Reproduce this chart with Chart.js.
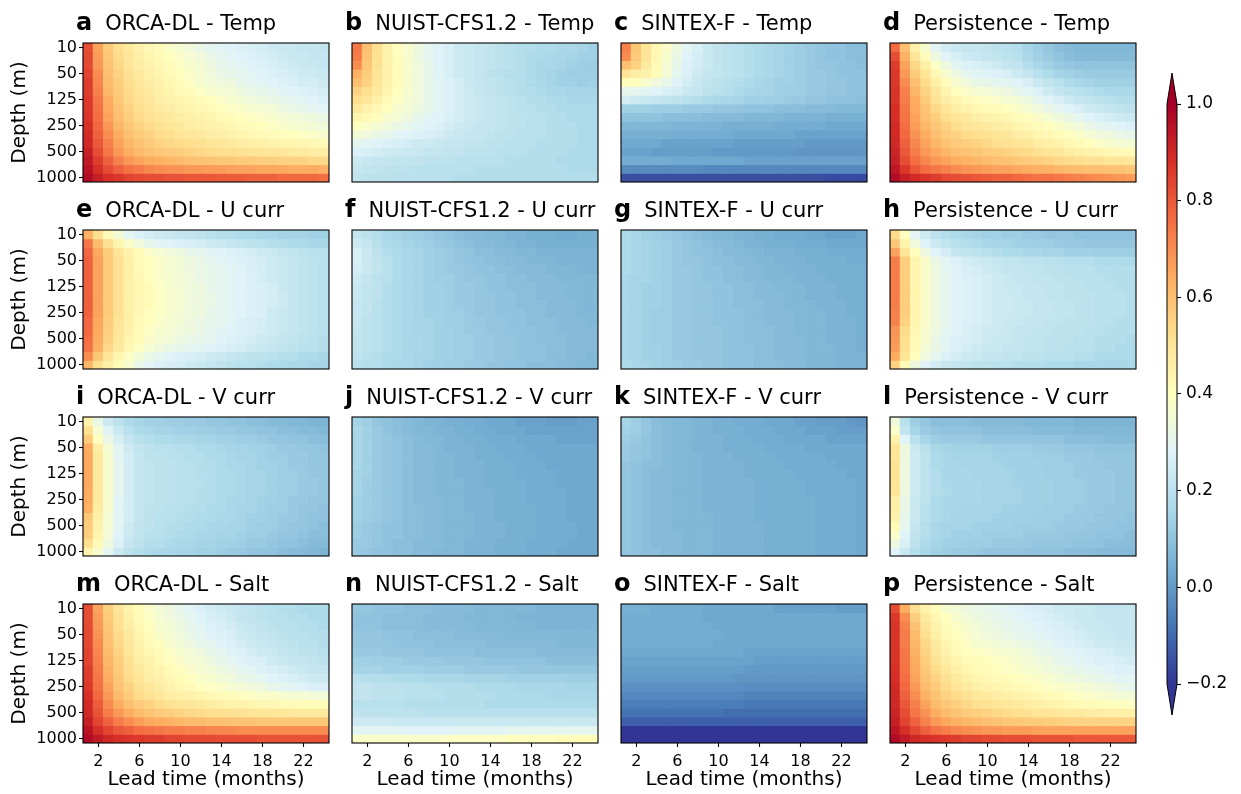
<!DOCTYPE html>
<html>
<head>
<meta charset="utf-8">
<title>Correlation skill by depth and lead time</title>
<script src="https://cdn.jsdelivr.net/npm/chart.js@4.4.1/dist/chart.umd.min.js"></script>
<style>
  html, body { margin: 0; padding: 0; background: #fff; }
  #fig { position: relative; width: 1241px; height: 794px; overflow: hidden; background: #fff; }
  #fig canvas { position: absolute; }
</style>
</head>
<body>
<div id="fig"></div>
<script>
// ---- axis categories and labels ----
const leadMonths = [1,2,3,4,5,6,7,8,9,10,11,12,13,14,15,16,17,18,19,20,21,22,23,24];
const leadTicks = [2,6,10,14,18,22];
const depthLevelCount = 16;
const depthTickRows = [0,3,6,9,12,15];
const depthTickLabels = ['10','50','125','250','500','1000'];
const models = ['ORCA-DL','NUIST-CFS1.2','SINTEX-F','Persistence'];
const variables = ['Temp','U curr','V curr','Salt'];
const panelLetters = ['a','b','c','d','e','f','g','h','i','j','k','l','m','n','o','p'];

// ---- colour scale ----
const colorMin = -0.2;
const colorMax = 1.0;
const colorbarTicks = [-0.2, 0, 0.2, 0.4, 0.6, 0.8, 1.0];
const rdylbuReversed = ['#313695','#4575b4','#74add1','#abd9e9','#e0f3f8','#ffffbf','#fee090','#fdae61','#f46d43','#d73027','#a50026'];

// ---- correlation skill x 100; rows = depth levels (top to bottom), columns = lead month 1..24 ----
const orcaTemp = [
 [82,66,57,52,48,45,43,41,38,36,34,32,30,29,28,27,26,25,24,23,23,22,22,21],
 [83,67,58,53,49,46,44,42,40,38,36,34,32,30,29,28,27,26,25,24,23,23,22,22],
 [83,68,59,54,50,47,45,43,41,39,37,35,33,31,30,29,28,27,26,25,24,23,23,22],
 [84,70,60,55,51,48,46,44,42,40,38,36,34,32,31,30,29,28,27,26,25,24,24,23],
 [85,71,61,56,52,49,47,45,43,41,39,37,35,34,33,31,30,29,28,27,26,25,25,24],
 [85,72,62,57,53,50,48,46,44,42,41,39,37,36,35,33,32,31,30,29,28,27,26,25],
 [86,74,64,58,54,51,49,47,45,44,43,41,40,38,37,35,34,33,32,31,30,29,28,27],
 [86,75,65,59,55,52,50,48,47,45,44,43,42,40,39,38,37,36,35,33,32,31,30,29],
 [87,76,66,60,56,53,51,50,48,47,46,45,44,42,41,40,39,38,37,36,35,34,33,32],
 [88,77,68,62,58,55,53,51,50,48,47,46,45,44,43,42,41,40,39,38,37,36,35,34],
 [89,78,70,64,60,57,55,53,52,50,49,48,47,46,45,44,43,42,41,40,40,39,38,37],
 [90,80,72,66,62,59,57,55,54,53,52,51,50,49,48,47,46,46,45,44,44,43,43,42],
 [92,82,74,68,64,61,59,58,57,56,55,54,53,52,52,51,50,50,49,49,48,48,47,47],
 [93,85,78,72,68,66,64,63,62,61,60,59,59,58,58,57,57,56,56,55,55,55,54,54],
 [95,88,82,78,75,73,71,70,69,69,68,68,67,67,66,66,66,65,65,65,64,64,64,63],
 [97,92,88,86,84,83,82,82,81,81,80,80,80,79,79,79,78,78,78,77,77,77,77,76]
];
const nuistTemp = [
 [74,60,52,45,40,37,33,30,28,26,24,23,22,21,20,19,18,18,17,17,16,16,15,14],
 [73,59,51,45,40,37,33,30,28,26,24,23,22,21,20,19,18,17,17,16,16,15,14,14],
 [70,58,51,45,41,37,34,31,28,26,24,23,22,21,20,19,18,17,16,16,15,14,13,13],
 [63,56,50,45,41,37,34,31,28,26,24,23,22,20,19,18,18,17,16,15,14,13,13,13],
 [60,55,50,45,41,37,34,31,29,27,25,23,22,21,20,19,18,17,16,15,14,14,13,14],
 [55,52,48,44,40,37,34,31,29,27,25,24,22,21,20,19,18,18,17,16,16,15,15,15],
 [52,49,46,42,39,36,34,31,29,27,25,24,23,22,21,20,19,18,18,17,17,16,16,16],
 [48,45,43,40,37,35,33,31,29,27,25,24,23,22,21,20,19,19,18,18,17,17,17,17],
 [44,42,40,37,35,33,31,29,28,26,25,24,23,22,21,20,20,19,19,18,18,17,17,17],
 [40,38,36,34,32,31,29,28,27,25,24,23,22,22,21,20,20,19,19,18,18,18,17,17],
 [35,34,32,31,29,28,27,26,25,24,23,22,22,21,20,20,19,19,19,18,18,18,17,17],
 [30,29,28,27,26,25,24,24,23,22,22,21,21,20,20,19,19,19,18,18,18,18,17,17],
 [27,26,25,24,24,23,23,22,22,21,21,20,20,20,19,19,19,18,18,18,18,17,17,17],
 [24,23,22,22,21,21,21,20,20,20,19,19,19,19,19,18,18,18,18,18,17,17,17,17],
 [22,21,21,20,20,20,19,19,19,19,19,19,18,18,18,18,18,18,18,18,18,17,17,17],
 [21,20,20,20,19,19,19,19,19,19,18,18,18,18,18,18,18,18,18,18,18,18,18,18]
];
const sintexTemp = [
 [72,58,50,43,38,33,29,26,23,21,20,19,18,17,16,15,14,13,12,11,10,10,9,9],
 [70,57,50,43,37,32,28,25,23,21,20,19,18,17,16,15,14,13,12,11,10,10,9,9],
 [60,55,48,42,36,31,27,25,23,21,20,19,18,17,16,15,14,13,12,11,11,10,10,9],
 [50,47,45,41,35,30,27,24,22,21,20,19,18,17,16,15,14,13,12,12,11,10,10,10],
 [40,40,37,34,31,28,25,23,21,20,19,18,17,16,15,14,14,13,12,12,11,11,10,10],
 [31,30,29,28,26,25,23,22,20,19,18,17,16,15,15,14,13,13,12,12,11,11,10,10],
 [25,24,23,22,21,20,19,18,17,16,16,15,14,14,13,13,12,12,11,11,10,10,10,9],
 [14,14,14,13,13,13,12,12,12,11,11,11,10,10,10,9,9,9,8,8,8,7,7,7],
 [10,10,10,10,9,9,9,9,8,8,8,8,7,7,7,7,6,6,6,6,5,5,5,5],
 [7,7,7,7,7,6,6,6,6,6,5,5,5,5,5,4,4,4,4,4,3,3,3,3],
 [5,5,5,5,5,4,4,4,4,4,4,3,3,3,3,3,3,2,2,2,2,2,2,2],
 [3,3,3,3,2,2,2,2,2,2,2,1,1,1,1,1,1,1,0,0,0,0,0,0],
 [2,2,2,1,1,1,1,1,1,0,0,0,0,0,0,0,0,-1,-1,-1,-1,-1,-1,-1],
 [4,4,4,4,4,3,3,3,3,3,3,3,2,2,2,2,2,2,2,2,2,2,2,2],
 [-3,-3,-3,-3,-3,-3,-3,-3,-4,-4,-4,-4,-4,-4,-4,-4,-4,-4,-4,-4,-4,-4,-4,-4],
 [-15,-15,-15,-15,-15,-15,-15,-15,-15,-15,-15,-15,-15,-15,-15,-15,-15,-15,-15,-15,-16,-16,-16,-16]
];
const persTemp = [
 [77,60,46,37,29,25,23,22,22,21,20,19,18,15,13,11,9,8,7,7,7,7,7,7],
 [82,63,50,41,33,28,26,24,23,22,21,20,19,16,14,12,10,9,8,8,8,8,8,8],
 [85,66,54,46,39,33,29,27,26,25,24,22,21,18,16,14,12,11,10,10,10,10,10,10],
 [86,68,57,50,43,37,33,30,29,28,27,26,24,22,19,17,15,14,13,12,12,12,12,12],
 [86,70,60,53,46,41,37,34,32,31,30,29,28,26,23,21,19,17,16,15,14,14,14,14],
 [87,72,62,55,49,44,40,38,36,35,34,33,31,29,27,24,22,20,19,18,17,16,16,16],
 [87,73,64,57,51,47,44,42,40,39,38,36,35,33,30,28,26,24,22,21,20,19,18,18],
 [88,74,65,59,54,50,47,45,43,42,41,40,38,36,34,32,30,28,26,24,23,22,21,20],
 [88,75,66,60,56,52,50,48,46,45,44,43,41,40,38,36,34,32,30,28,26,25,24,23],
 [89,76,67,62,58,55,52,50,49,48,47,46,44,43,41,40,38,36,34,32,30,29,28,27],
 [89,77,69,64,60,57,55,53,52,51,50,49,47,46,44,43,41,40,38,36,34,33,32,31],
 [90,78,71,66,62,59,57,56,55,54,52,51,50,49,47,46,45,43,42,40,38,37,36,35],
 [91,80,73,68,65,62,60,59,58,57,56,55,54,53,51,50,49,47,46,45,44,43,42,42],
 [92,82,76,71,68,66,64,63,62,61,60,59,58,57,56,55,54,53,52,51,51,50,50,49],
 [94,86,80,76,74,72,70,69,68,67,66,66,65,64,63,63,62,61,61,60,60,59,59,58],
 [97,92,89,87,85,83,82,81,80,79,78,78,77,76,75,75,74,73,72,71,70,69,68,67]
];
const orcaU = [
 [63,52,42,35,30,27,25,24,23,22,21,20,19,18,18,17,17,16,16,15,15,15,14,14],
 [74,61,51,44,38,34,31,29,28,27,26,25,24,23,22,21,20,19,18,18,17,17,16,16],
 [77,65,56,50,45,41,38,36,34,33,31,30,29,28,27,26,25,24,23,22,21,20,19,19],
 [78,66,57,51,46,42,40,38,36,35,33,32,30,29,28,27,26,25,24,23,22,21,20,19],
 [78,66,57,51,46,42,40,38,36,35,33,32,31,30,29,28,26,25,24,23,22,21,20,19],
 [78,66,57,51,46,43,40,38,37,35,34,32,31,30,29,28,27,25,24,23,22,21,20,19],
 [78,66,57,51,46,43,41,39,37,35,34,33,31,30,29,28,27,26,25,23,22,21,20,19],
 [78,66,57,51,46,43,41,39,37,36,34,33,32,30,29,28,27,26,25,24,22,21,20,19],
 [78,66,57,51,46,43,41,39,37,36,34,33,32,30,29,28,27,26,25,24,22,21,20,19],
 [78,66,57,51,46,43,40,39,37,35,34,33,31,30,29,28,27,26,24,23,22,21,20,19],
 [77,65,56,50,46,42,40,38,36,35,33,32,31,30,29,27,26,25,24,23,22,21,20,19],
 [77,65,56,50,45,42,39,37,36,34,33,32,30,29,28,27,26,25,24,23,22,21,20,19],
 [76,64,55,49,44,41,38,36,35,33,32,31,30,28,27,26,25,24,23,22,21,20,19,18],
 [75,63,54,48,43,39,36,34,32,31,30,29,28,27,26,25,24,23,22,21,20,19,19,18],
 [70,58,50,44,39,35,32,30,28,27,26,25,24,23,22,21,20,20,19,18,18,17,17,16],
 [62,52,46,41,37,32,29,27,26,25,24,23,22,21,20,19,19,18,17,17,16,16,15,15]
];
const nuistU = [
 [22,20,18,16,15,14,13,12,11,10,9,8,8,7,7,6,6,5,5,5,4,4,5,5],
 [24,22,19,17,16,15,14,13,12,11,10,9,8,8,7,7,6,6,5,5,5,5,5,5],
 [26,23,20,18,17,16,15,14,13,12,11,10,9,9,8,8,7,7,6,6,6,6,6,6],
 [26,23,21,19,17,16,15,14,13,12,11,10,10,9,9,8,8,7,7,7,6,6,6,6],
 [25,23,21,19,17,16,15,14,13,12,12,11,10,10,9,9,8,8,8,7,7,7,6,6],
 [24,22,20,19,17,16,15,14,13,13,12,11,11,10,10,9,9,8,8,8,7,7,7,7],
 [23,21,20,18,17,16,15,14,14,13,12,12,11,10,10,9,9,9,8,8,8,7,7,7],
 [23,21,20,18,17,16,15,14,14,13,12,12,11,11,10,10,9,9,8,8,8,7,7,7],
 [22,21,19,18,17,16,15,14,14,13,12,12,11,11,10,10,9,9,9,8,8,8,7,7],
 [22,21,19,18,17,16,15,14,14,13,13,12,11,11,10,10,10,9,9,8,8,8,7,7],
 [22,20,19,18,17,16,15,15,14,13,13,12,12,11,11,10,10,9,9,9,8,8,8,7],
 [22,20,19,18,17,16,15,15,14,14,13,12,12,11,11,10,10,10,9,9,8,8,8,8],
 [21,20,19,18,17,16,16,15,14,14,13,13,12,12,11,11,10,10,9,9,9,8,8,8],
 [21,20,19,18,17,16,16,15,14,14,13,13,12,12,11,11,10,10,10,9,9,8,8,8],
 [20,19,18,17,17,16,15,15,14,14,13,13,12,12,11,11,10,10,10,9,9,8,8,7],
 [19,18,18,17,16,16,15,14,14,13,13,12,12,11,11,10,10,9,9,9,8,8,7,7]
];
const sintexU = [
 [17,16,14,13,12,11,10,9,8,7,7,6,6,5,5,4,4,4,3,3,2,2,2,3],
 [17,16,15,14,13,12,11,10,9,8,8,7,6,6,5,5,5,4,4,4,3,3,3,3],
 [17,16,15,14,13,12,11,10,10,9,8,8,7,7,6,6,6,5,5,5,4,4,4,4],
 [17,16,15,14,13,12,11,11,10,9,9,8,8,7,7,6,6,6,5,5,5,5,4,4],
 [17,16,15,14,13,12,12,11,10,10,9,9,8,8,7,7,6,6,6,5,5,5,5,5],
 [16,15,15,14,13,12,12,11,10,10,9,9,8,8,7,7,7,6,6,6,5,5,5,5],
 [16,15,14,14,13,12,12,11,11,10,10,9,9,8,8,7,7,7,6,6,6,5,5,5],
 [16,15,14,14,13,12,12,11,11,10,10,9,9,8,8,8,7,7,6,6,6,5,5,5],
 [16,15,14,14,13,12,12,11,11,10,10,9,9,9,8,8,7,7,7,6,6,6,5,5],
 [16,15,14,13,13,12,12,11,11,10,10,10,9,9,8,8,8,7,7,7,6,6,5,5],
 [16,15,14,13,13,12,12,11,11,10,10,10,9,9,8,8,8,7,7,7,6,6,6,5],
 [16,15,14,13,13,12,12,11,11,11,10,10,9,9,9,8,8,7,7,7,6,6,6,5],
 [16,15,14,13,13,12,12,11,11,11,10,10,9,9,9,8,8,8,7,7,6,6,6,5],
 [16,15,14,14,13,12,12,11,11,11,10,10,10,9,9,8,8,8,7,7,7,6,6,5],
 [16,15,14,14,13,12,12,11,11,11,10,10,10,9,9,8,8,8,7,7,7,6,6,6],
 [17,16,15,14,13,13,12,12,11,11,10,10,10,9,9,9,8,8,7,7,7,6,6,6]
];
const persU = [
 [53,40,29,24,20,18,17,16,15,14,14,13,13,12,12,11,11,11,10,10,10,10,10,10],
 [58,44,34,28,24,21,19,18,17,16,15,15,14,14,13,13,12,12,12,11,11,11,11,11],
 [66,50,40,33,28,25,22,21,20,19,18,17,17,16,16,15,15,14,14,14,13,13,13,13],
 [73,56,44,38,32,29,27,25,24,23,22,21,21,20,20,19,19,18,18,18,17,17,17,17],
 [73,56,44,38,33,30,28,26,25,24,23,22,22,21,21,20,20,19,19,19,18,18,18,18],
 [73,56,44,38,33,30,28,27,26,25,24,23,22,22,21,21,20,20,19,19,19,18,18,18],
 [73,56,44,38,33,30,28,27,26,25,24,23,23,22,22,21,21,20,20,19,19,19,18,18],
 [73,56,44,38,33,30,28,27,26,25,24,24,23,22,22,21,21,20,20,20,19,19,19,18],
 [73,56,44,38,33,30,28,27,26,25,24,24,23,23,22,22,21,21,20,20,19,19,19,18],
 [72,56,44,38,33,30,28,27,26,25,24,24,23,23,22,22,21,21,20,20,19,19,19,18],
 [72,55,44,38,33,30,28,27,26,25,24,23,23,22,22,21,21,20,20,20,19,19,18,18],
 [69,53,43,37,33,30,28,26,25,24,24,23,22,22,21,21,20,20,20,19,19,18,18,18],
 [68,52,42,37,32,29,27,26,25,24,23,23,22,21,21,20,20,20,19,19,18,18,18,17],
 [67,52,42,36,32,29,27,25,24,23,23,22,22,21,21,20,20,19,19,19,18,18,17,17],
 [64,50,40,34,30,27,25,24,23,22,22,21,21,20,20,19,19,19,18,18,17,17,17,17],
 [55,42,33,28,25,23,22,21,20,20,19,19,18,18,18,17,17,17,16,16,16,16,16,16]
];
const orcaV = [
 [45,32,24,20,17,15,14,14,13,13,12,12,11,11,10,10,9,9,8,8,7,7,6,6],
 [52,36,28,23,19,17,16,15,15,14,14,13,13,12,12,11,11,10,10,9,9,8,8,7],
 [57,40,32,26,22,19,18,17,17,16,16,15,15,14,14,13,13,12,11,11,10,10,9,9],
 [64,47,36,29,24,21,20,19,19,18,18,17,17,16,15,15,14,14,13,12,12,11,11,10],
 [65,48,37,29,25,22,20,20,19,19,18,18,17,17,16,15,15,14,13,13,12,12,11,11],
 [65,48,37,30,25,22,21,20,20,19,19,18,18,17,16,16,15,14,14,13,12,12,11,11],
 [65,48,37,30,25,22,21,20,20,19,19,18,18,17,17,16,15,15,14,13,13,12,11,11],
 [65,48,37,30,25,22,21,20,20,19,19,19,18,17,17,16,15,15,14,13,13,12,12,11],
 [64,48,37,30,25,22,21,20,20,19,19,18,18,17,17,16,15,15,14,13,13,12,12,11],
 [64,48,37,29,25,22,21,20,20,19,19,18,18,17,16,16,15,14,14,13,12,12,11,11],
 [63,47,37,29,25,22,20,20,19,19,18,18,17,17,16,15,15,14,13,13,12,11,11,10],
 [58,46,36,29,25,22,20,19,19,18,18,17,17,16,16,15,14,14,13,12,12,11,10,10],
 [57,45,36,29,24,21,20,19,18,18,17,17,16,16,15,15,14,13,13,12,11,11,10,9],
 [56,44,35,28,24,21,19,19,18,17,17,16,16,15,15,14,13,13,12,11,11,10,9,9],
 [52,42,33,27,22,20,18,18,17,16,16,15,15,14,14,13,12,12,11,10,10,9,8,8],
 [45,37,30,24,20,18,17,16,16,15,15,14,14,13,12,12,11,10,10,9,8,8,7,6]
];
const nuistV = [
 [15,13,11,10,9,8,7,6,6,5,5,4,4,3,3,3,2,2,2,1,1,1,2,2],
 [16,14,12,10,9,8,7,7,6,6,5,5,4,4,3,3,3,2,2,2,2,2,2,2],
 [16,14,12,11,10,9,8,7,7,6,6,5,5,4,4,4,3,3,3,3,2,2,2,2],
 [16,14,12,11,10,9,8,8,7,6,6,6,5,5,4,4,4,3,3,3,3,3,3,3],
 [16,14,12,11,10,9,8,8,7,7,6,6,5,5,5,4,4,4,3,3,3,3,3,3],
 [16,14,12,11,10,9,8,8,7,7,6,6,6,5,5,5,4,4,4,3,3,3,3,3],
 [15,14,12,11,10,9,8,8,7,7,6,6,6,5,5,5,4,4,4,4,3,3,3,3],
 [15,13,12,11,10,9,8,8,7,7,7,6,6,5,5,5,5,4,4,4,3,3,3,3],
 [15,13,12,11,10,9,8,8,7,7,7,6,6,6,5,5,5,4,4,4,4,3,3,3],
 [14,13,12,11,10,9,8,8,8,7,7,6,6,6,5,5,5,4,4,4,4,3,3,3],
 [14,13,12,11,10,9,9,8,8,7,7,6,6,6,5,5,5,5,4,4,4,3,3,3],
 [14,13,12,11,10,9,9,8,8,7,7,7,6,6,5,5,5,5,4,4,4,3,3,3],
 [13,12,11,10,10,9,9,8,8,7,7,7,6,6,6,5,5,5,4,4,4,4,3,3],
 [13,12,11,10,10,9,9,8,8,7,7,7,6,6,6,5,5,5,4,4,4,4,3,3],
 [12,12,11,10,9,9,8,8,8,7,7,6,6,6,5,5,5,4,4,4,4,3,3,3],
 [12,11,10,10,9,9,8,8,7,7,7,6,6,6,5,5,5,4,4,4,3,3,3,3]
];
const sintexV = [
 [15,13,11,9,8,7,7,6,6,5,5,4,4,4,3,3,3,2,2,1,1,1,0,-1],
 [14,13,11,9,8,7,7,6,6,5,5,5,4,4,4,3,3,3,2,2,2,1,1,1],
 [13,12,10,9,8,7,7,6,6,6,5,5,5,4,4,4,3,3,3,3,2,2,2,2],
 [12,11,10,9,8,7,7,6,6,6,5,5,5,5,4,4,4,4,3,3,3,3,3,3],
 [12,11,10,9,8,7,7,7,6,6,6,5,5,5,5,4,4,4,4,4,3,3,3,3],
 [11,10,9,9,8,7,7,7,6,6,6,6,5,5,5,5,4,4,4,4,4,3,3,3],
 [11,10,9,8,8,7,7,7,6,6,6,6,5,5,5,5,5,4,4,4,4,4,3,3],
 [11,10,9,8,8,7,7,7,6,6,6,6,6,5,5,5,5,5,4,4,4,4,4,3],
 [11,10,9,8,8,7,7,7,6,6,6,6,6,5,5,5,5,5,4,4,4,4,4,3],
 [11,10,9,8,8,7,7,7,6,6,6,6,6,5,5,5,5,5,5,4,4,4,4,3],
 [11,10,9,8,8,7,7,7,6,6,6,6,6,5,5,5,5,5,5,4,4,4,4,3],
 [11,10,9,8,8,7,7,7,7,6,6,6,6,5,5,5,5,5,5,4,4,4,4,3],
 [11,10,9,8,8,7,7,7,7,6,6,6,6,6,5,5,5,5,5,4,4,4,4,3],
 [11,10,9,8,8,8,7,7,7,6,6,6,6,6,5,5,5,5,5,4,4,4,4,3],
 [11,10,9,8,8,8,7,7,7,6,6,6,6,6,5,5,5,5,5,4,4,4,4,3],
 [11,10,9,9,8,8,7,7,7,6,6,6,6,6,5,5,5,5,5,4,4,4,4,3]
];
const persV = [
 [34,19,13,11,9,9,9,9,8,8,8,8,8,7,7,7,7,7,6,6,6,6,6,6],
 [38,21,15,12,11,10,10,10,10,9,9,9,9,9,8,8,8,8,7,7,7,7,7,7],
 [45,28,19,15,13,12,12,12,12,11,11,11,11,11,10,10,10,9,9,9,9,8,8,8],
 [50,33,23,19,16,15,14,14,14,14,13,13,13,13,12,12,12,11,11,11,10,10,10,10],
 [50,33,24,20,17,16,15,15,15,15,14,14,14,14,13,13,13,12,12,12,11,11,11,11],
 [51,33,24,20,17,16,16,15,15,15,15,14,14,14,14,13,13,13,12,12,12,11,11,11],
 [51,33,24,20,18,16,16,16,15,15,15,15,14,14,14,13,13,13,12,12,12,12,11,11],
 [50,33,24,20,18,16,16,16,16,15,15,15,14,14,14,14,13,13,13,12,12,12,11,11],
 [50,33,24,20,18,17,16,16,16,15,15,15,15,14,14,14,13,13,13,12,12,12,11,11],
 [46,32,23,20,17,16,16,16,16,15,15,15,15,14,14,14,13,13,13,12,12,12,11,11],
 [46,32,23,19,17,16,16,15,15,15,15,14,14,14,14,13,13,13,12,12,12,11,11,11],
 [45,31,23,19,17,16,15,15,15,15,14,14,14,14,13,13,13,12,12,12,11,11,11,10],
 [42,30,22,18,16,15,15,15,14,14,14,14,13,13,13,13,12,12,12,11,11,11,10,10],
 [38,28,21,18,16,15,14,14,14,13,13,13,13,12,12,12,12,11,11,11,10,10,10,9],
 [33,26,20,17,15,14,14,13,13,13,12,12,12,12,11,11,11,11,10,10,10,9,9,9],
 [28,23,18,16,14,13,12,12,12,11,11,11,11,10,10,10,10,9,9,9,8,8,8,8]
];
const orcaSalt = [
 [82,66,56,50,45,41,38,35,33,31,29,27,25,24,23,22,21,20,19,18,18,17,17,17],
 [82,67,57,51,46,42,39,36,34,32,30,28,26,25,24,22,21,20,19,19,18,18,17,17],
 [83,68,58,52,47,43,40,37,35,33,31,29,27,26,25,23,22,21,20,19,19,18,18,17],
 [83,69,59,53,48,44,41,38,36,34,32,30,28,27,26,24,23,22,21,20,19,19,18,18],
 [83,70,60,54,49,45,42,40,37,35,33,31,30,28,27,25,24,23,22,21,20,19,19,18],
 [84,71,61,55,50,46,43,41,39,37,35,33,31,30,28,27,25,24,23,22,21,20,20,19],
 [84,72,62,56,51,47,45,42,40,38,36,35,33,31,30,28,27,26,24,23,22,22,21,20],
 [85,73,63,57,52,48,46,44,42,40,38,36,35,33,32,30,29,27,26,25,24,23,22,22],
 [85,74,64,58,53,50,47,45,43,41,40,38,37,35,34,32,31,30,28,27,26,25,24,24],
 [86,75,66,59,55,51,49,47,45,43,42,40,39,38,36,35,34,33,31,30,29,28,27,27],
 [88,77,68,61,57,53,51,49,47,46,45,44,43,42,41,40,39,38,38,37,36,36,35,35],
 [89,79,70,64,60,57,55,53,51,50,49,48,47,46,45,45,44,43,43,42,42,41,41,41],
 [90,81,73,68,64,61,59,57,56,55,54,53,52,52,51,51,50,50,49,49,48,48,48,48],
 [92,84,78,73,70,67,65,64,63,62,61,61,60,60,59,59,59,58,58,58,58,58,58,58],
 [95,88,84,80,78,76,75,74,73,73,72,72,71,71,71,70,70,70,70,70,70,70,70,70],
 [97,93,90,88,87,86,85,85,84,84,83,83,83,82,82,82,82,81,81,81,81,81,81,81]
];
const nuistSalt = [
 [11,11,10,10,10,9,9,9,8,8,8,8,7,7,7,7,7,7,6,6,6,6,6,6],
 [10,10,10,9,9,9,9,8,8,8,8,7,7,7,7,7,6,6,6,6,6,6,6,6],
 [10,10,10,9,9,9,9,8,8,8,8,8,7,7,7,7,7,7,6,6,6,6,6,6],
 [11,11,11,10,10,10,9,9,9,9,8,8,8,8,8,7,7,7,7,7,7,7,7,7],
 [11,11,11,11,10,10,10,10,9,9,9,9,9,8,8,8,8,8,8,8,7,7,7,7],
 [12,12,12,11,11,11,11,10,10,10,10,10,9,9,9,9,9,9,8,8,8,8,8,8],
 [14,14,13,13,13,12,12,12,12,11,11,11,11,10,10,10,10,10,10,9,9,9,9,9],
 [15,15,15,14,14,14,14,13,13,13,13,12,12,12,12,12,11,11,11,11,11,11,11,11],
 [19,18,18,18,17,17,17,16,16,16,16,15,15,15,15,14,14,14,14,14,14,13,13,13],
 [21,21,20,20,20,19,19,19,18,18,18,18,17,17,17,17,16,16,16,16,16,15,15,15],
 [21,21,20,20,20,19,19,19,19,18,18,18,18,18,17,17,17,17,17,16,16,16,16,16],
 [19,19,19,19,19,18,18,18,18,18,18,18,18,17,17,17,17,17,17,17,17,17,17,17],
 [21,20,20,20,20,20,20,19,19,19,19,19,19,19,19,19,19,19,19,19,19,19,19,19],
 [24,24,24,24,23,23,23,23,23,23,23,23,23,23,23,23,23,23,23,23,23,23,23,23],
 [29,29,29,29,29,28,28,28,28,28,29,29,29,29,29,30,30,30,30,30,30,30,30,30],
 [38,38,38,38,38,38,38,38,38,39,39,39,39,39,39,40,40,40,40,40,41,41,41,41]
];
const sintexSalt = [
 [5,5,5,4,4,4,4,4,3,3,3,3,3,3,3,2,2,2,2,2,2,1,1,1],
 [4,4,4,4,4,4,4,4,3,3,3,3,3,3,3,3,3,3,3,3,3,3,3,3],
 [4,4,4,4,4,4,4,4,4,3,3,3,3,3,3,3,3,3,3,3,3,3,3,3],
 [4,4,4,4,4,4,4,4,4,4,3,3,3,3,3,3,3,3,3,3,3,3,3,3],
 [4,4,4,4,4,4,4,4,4,3,3,3,3,3,3,3,3,3,3,3,3,3,3,3],
 [3,3,3,3,3,3,3,3,3,3,3,3,2,2,2,2,2,2,2,2,2,2,2,2],
 [2,2,2,2,2,2,2,2,2,2,2,2,2,1,1,1,1,1,1,1,1,1,1,1],
 [1,1,1,1,1,1,1,1,1,1,1,1,0,0,0,0,0,0,0,0,0,0,0,0],
 [0,0,0,0,0,0,0,0,0,0,0,-1,-1,-1,-1,-1,-1,-1,-1,-1,-1,-1,-1,-1],
 [-2,-2,-2,-2,-2,-2,-2,-2,-2,-2,-2,-2,-3,-3,-3,-3,-3,-3,-3,-3,-3,-3,-3,-3],
 [-4,-4,-4,-4,-4,-4,-4,-4,-4,-4,-4,-4,-5,-5,-5,-5,-5,-5,-5,-5,-5,-5,-5,-5],
 [-6,-6,-6,-6,-6,-6,-6,-6,-6,-6,-6,-6,-7,-7,-7,-7,-7,-7,-7,-7,-7,-7,-7,-7],
 [-8,-8,-8,-8,-8,-8,-8,-8,-8,-8,-9,-9,-9,-9,-9,-9,-9,-9,-9,-9,-9,-9,-9,-9],
 [-12,-12,-12,-12,-12,-12,-12,-12,-12,-12,-12,-12,-12,-12,-12,-12,-12,-12,-12,-12,-12,-12,-12,-12],
 [-20,-20,-20,-20,-20,-20,-20,-20,-20,-20,-20,-20,-20,-20,-20,-20,-20,-20,-20,-20,-20,-20,-20,-20],
 [-21,-21,-21,-21,-21,-21,-21,-21,-21,-21,-21,-21,-21,-21,-21,-21,-21,-21,-21,-21,-21,-21,-21,-21]
];
const persSalt = [
 [82,64,52,45,41,37,35,33,32,31,30,29,28,27,26,25,24,24,23,23,22,22,22,22],
 [86,70,56,48,43,40,37,35,33,32,31,30,29,28,27,26,25,24,23,23,22,22,22,22],
 [87,72,59,50,45,41,39,37,35,33,32,31,30,29,28,27,26,25,24,23,23,22,22,22],
 [87,73,61,52,46,42,40,38,36,34,33,32,31,30,29,28,27,26,25,24,23,23,22,22],
 [87,73,62,54,48,44,41,39,37,36,35,34,33,32,31,30,28,27,26,25,24,24,23,23],
 [87,74,63,55,49,45,42,40,39,38,37,36,35,34,32,31,30,29,28,27,26,25,24,24],
 [87,74,64,56,51,47,44,42,41,40,39,38,37,35,34,33,31,30,29,28,27,27,26,25],
 [88,75,65,58,53,49,46,44,42,41,40,39,38,37,36,34,33,32,31,30,29,28,27,27],
 [88,76,66,59,55,51,48,46,44,43,42,41,40,39,38,37,35,34,33,32,31,30,29,29],
 [89,77,68,61,57,53,50,48,46,45,44,43,42,41,40,39,38,37,36,35,34,33,32,31],
 [90,78,70,63,59,55,53,51,49,48,47,46,45,44,43,42,41,40,39,38,37,36,35,35],
 [90,80,72,66,61,58,56,54,52,51,50,49,48,47,46,45,44,43,42,42,41,40,40,39],
 [91,82,74,69,64,61,59,57,56,55,54,53,52,51,50,50,49,48,48,47,47,46,46,46],
 [92,84,78,72,68,65,63,62,61,60,59,58,58,57,57,56,56,55,55,55,55,55,55,55],
 [94,88,83,78,75,73,71,70,69,68,68,67,67,67,66,66,66,66,66,66,66,66,66,66],
 [97,93,90,88,87,86,85,84,84,83,83,82,82,82,81,81,81,81,80,80,80,80,80,80]
];

// panels[row][column]: variables down, models across
const panels = [
  [orcaTemp, nuistTemp, sintexTemp, persTemp],
  [orcaU, nuistU, sintexU, persU],
  [orcaV, nuistV, sintexV, persV],
  [orcaSalt, nuistSalt, sintexSalt, persSalt]
];

// ---- page geometry ----
const FONT = "'DejaVu Sans', 'Liberation Sans', sans-serif";
const figHeight = 794;
const panelLeft = [83, 352, 621, 890];
const panelTop = [43, 230, 417, 604];
const panelWidth = 246;
const panelHeight = 139;

Chart.defaults.font.family = FONT;
Chart.defaults.color = '#000';

function hexToRgb(h) {
  return [parseInt(h.slice(1, 3), 16), parseInt(h.slice(3, 5), 16), parseInt(h.slice(5, 7), 16)];
}
const stopRgb = rdylbuReversed.map(hexToRgb);

// value -> colour, 256-level lookup, clamped at both ends (extended colour bar)
function colorFor(v) {
  let t = (v - colorMin) / (colorMax - colorMin);
  t = Math.max(0, Math.min(1, t));
  t = Math.min(255, Math.floor(t * 256)) / 255;
  const x = t * (stopRgb.length - 1);
  const i = Math.min(stopRgb.length - 2, Math.floor(x));
  const f = x - i;
  const a = stopRgb[i], b = stopRgb[i + 1];
  const c = a.map((ch, k) => Math.round(ch + (b[k] - ch) * f));
  return `rgb(${c[0]},${c[1]},${c[2]})`;
}

// frame and "letter  title" heading for each heatmap
const panelDecor = {
  id: 'panelDecor',
  afterDatasetsDraw(chart, args, opts) {
    const { ctx, chartArea: a } = chart;
    ctx.save();
    ctx.strokeStyle = '#000';
    ctx.lineWidth = 1.1;
    ctx.strokeRect(a.left, a.top, a.right - a.left, a.bottom - a.top);
    ctx.fillStyle = '#000';
    ctx.textAlign = 'left';
    ctx.textBaseline = 'alphabetic';
    const x0 = a.left - 7;
    const y0 = a.top - 13;
    ctx.font = `bold 24px ${FONT}`;
    ctx.fillText(opts.letter, x0, y0);
    const lw = ctx.measureText(opts.letter).width;
    ctx.font = `21px ${FONT}`;
    ctx.fillText(opts.text, x0 + lw + 13, y0);
    ctx.restore();
  }
};

const fig = document.getElementById('fig');

function addCanvas(left, top, w, h) {
  const c = document.createElement('canvas');
  c.width = w; c.height = h;
  c.style.left = left + 'px'; c.style.top = top + 'px';
  c.style.width = w + 'px'; c.style.height = h + 'px';
  fig.appendChild(c);
  return c;
}

function makePanel(vi, mi) {
  const values = panels[vi][mi];
  const isLeft = mi === 0;
  const isBottom = vi === panels.length - 1;
  const padL = isLeft ? panelLeft[0] : 24;
  const padT = 40;
  const padR = 40;
  const padB = isBottom ? figHeight - (panelTop[vi] + panelHeight) : 20;
  const canvas = addCanvas(panelLeft[mi] - padL, panelTop[vi] - padT,
    padL + panelWidth + padR, padT + panelHeight + padB);

  // one stacked band per depth level, one bar per lead month
  const datasets = values.map((row, r) => ({
    label: 'level ' + (r + 1),
    data: leadMonths.map(() => 1),
    backgroundColor: row.map(v => colorFor(v / 100)),
    borderWidth: 0,
    inflateAmount: 0.5,
    barPercentage: 1,
    categoryPercentage: 1
  }));

  const tickGrid = {
    display: true, drawOnChartArea: false, offset: false,
    tickLength: 4, tickWidth: 1.1, tickColor: '#000'
  };

  new Chart(canvas, {
    type: 'bar',
    data: { labels: leadMonths.map(String), datasets },
    plugins: [panelDecor],
    options: {
      responsive: false,
      animation: false,
      events: [],
      layout: { padding: { left: isLeft ? 0 : padL, top: padT, right: padR, bottom: isBottom ? 0 : padB } },
      plugins: {
        legend: { display: false },
        tooltip: { enabled: false },
        panelDecor: { letter: panelLetters[vi * 4 + mi], text: `${models[mi]} - ${variables[vi]}` }
      },
      scales: {
        x: {
          stacked: true,
          display: isBottom,
          offset: true,
          grid: tickGrid,
          border: { display: false },
          afterBuildTicks: s => { s.ticks = s.ticks.filter(t => leadTicks.includes(leadMonths[t.value])); },
          afterFit: s => { s.height = isBottom ? padB : 0; },
          ticks: { autoSkip: false, maxRotation: 0, minRotation: 0, padding: 5, font: { size: 16 }, color: '#000' },
          title: { display: true, text: 'Lead time (months)', color: '#000', font: { size: 20 }, padding: { top: 0, bottom: 2 } }
        },
        y: {
          stacked: true,
          display: isLeft,
          reverse: true,
          min: 0,
          max: depthLevelCount,
          grid: tickGrid,
          border: { display: false },
          afterBuildTicks: s => { s.ticks = depthTickRows.map(r => ({ value: r + 0.5 })); },
          afterFit: s => { s.width = isLeft ? padL : 0; },
          ticks: {
            padding: 2, font: { size: 16 }, color: '#000',
            callback: v => depthTickLabels[depthTickRows.indexOf(v - 0.5)]
          },
          title: { display: true, text: 'Depth (m)', color: '#000', font: { size: 20 }, padding: { top: 8, bottom: 0 } }
        }
      }
    }
  });
}

for (let vi = 0; vi < panels.length; vi++) {
  for (let mi = 0; mi < models.length; mi++) makePanel(vi, mi);
}

// ---- colour bar with extension triangles ----
const cbarTip = 31;
const colorbarOutline = {
  id: 'colorbarOutline',
  afterDatasetsDraw(chart) {
    const { ctx, chartArea: a } = chart;
    const cx = (a.left + a.right) / 2;
    ctx.save();
    ctx.fillStyle = rdylbuReversed[rdylbuReversed.length - 1];
    ctx.beginPath();
    ctx.moveTo(a.left, a.top); ctx.lineTo(cx, a.top - cbarTip); ctx.lineTo(a.right, a.top);
    ctx.closePath(); ctx.fill();
    ctx.fillStyle = rdylbuReversed[0];
    ctx.beginPath();
    ctx.moveTo(a.left, a.bottom); ctx.lineTo(cx, a.bottom + cbarTip); ctx.lineTo(a.right, a.bottom);
    ctx.closePath(); ctx.fill();
    ctx.strokeStyle = '#000';
    ctx.lineWidth = 1;
    ctx.beginPath();
    ctx.moveTo(a.left, a.top);
    ctx.lineTo(cx, a.top - cbarTip);
    ctx.lineTo(a.right, a.top);
    ctx.lineTo(a.right, a.bottom);
    ctx.lineTo(cx, a.bottom + cbarTip);
    ctx.lineTo(a.left, a.bottom);
    ctx.closePath();
    ctx.stroke();
    ctx.restore();
  }
};

const cbLeft = 1140, cbTop = 60;
const cbCanvas = addCanvas(cbLeft, cbTop, 101, 664);
new Chart(cbCanvas, {
  type: 'bar',
  data: {
    labels: [''],
    datasets: [{
      data: [[colorMin, colorMax]],
      borderWidth: 0,
      barPercentage: 1,
      categoryPercentage: 1,
      backgroundColor: (context) => {
        const chart = context.chart;
        const area = chart.chartArea;
        if (!area) return rdylbuReversed[5];
        const y = chart.scales.y;
        const g = chart.ctx.createLinearGradient(0, y.getPixelForValue(colorMin), 0, y.getPixelForValue(colorMax));
        rdylbuReversed.forEach((c, i) => g.addColorStop(i / (rdylbuReversed.length - 1), c));
        return g;
      }
    }]
  },
  plugins: [colorbarOutline],
  options: {
    responsive: false,
    animation: false,
    events: [],
    layout: { padding: { left: 27, top: 44, right: 0, bottom: 40 } },
    plugins: { legend: { display: false }, tooltip: { enabled: false } },
    scales: {
      x: { display: false, offset: true },
      y: {
        position: 'right',
        min: colorMin,
        max: colorMax,
        grid: { display: true, drawOnChartArea: false, tickLength: 4, tickWidth: 1.1, tickColor: '#000' },
        border: { display: false },
        afterBuildTicks: s => { s.ticks = colorbarTicks.map(v => ({ value: v })); },
        afterFit: s => { s.width = 64; },
        ticks: {
          padding: 5, font: { size: 17 }, color: '#000',
          callback: v => (v < 0 ? '\u2212' : '') + Math.abs(v).toFixed(1)
        }
      }
    }
  }
});
</script>
</body>
</html>
